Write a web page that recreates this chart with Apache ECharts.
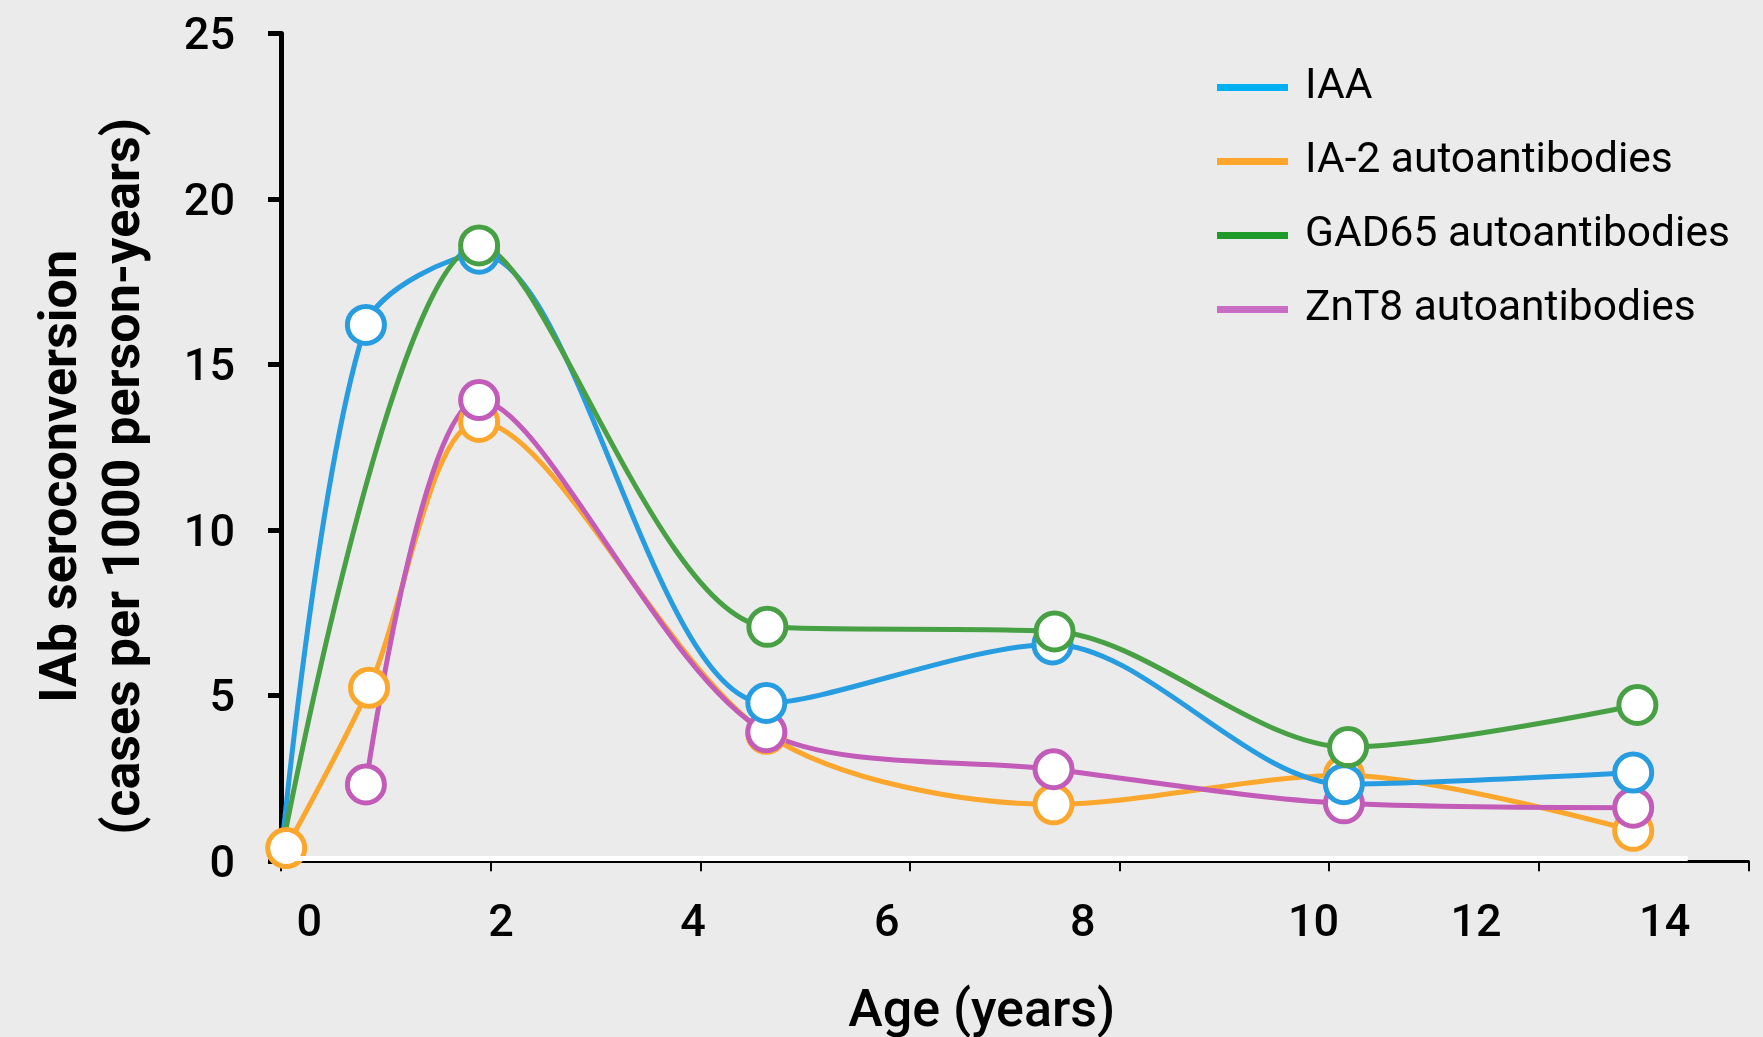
<!DOCTYPE html>
<html>
<head>
<meta charset="utf-8">
<script src="https://cdn.jsdelivr.net/npm/echarts@6/dist/echarts.min.js"></script>
<style>
  html, body { margin: 0; padding: 0; background: #ebebeb; }
  #chart { width: 1763px; height: 1037px; }
</style>
</head>
<body>
<div id="chart"></div>
<script>
// values (x in axis units, tick marks every 2)
const ageIAA = [0, 0.81, 1.89, 4.63, 7.36, 10.14, 12.9];
const rateIAA = [0.15, 16.2, 18.35, 4.78, 6.55, 2.33, 2.68];

const ageIA2 = [0.05, 0.84, 1.89, 4.63, 7.37, 10.14, 12.9];
const rateIA2 = [0.4, 5.24, 13.27, 3.85, 1.72, 2.6, 0.92];

const ageGAD = [0, 1.89, 4.64, 7.38, 10.18, 12.94];
const rateGAD = [0.2, 18.6, 7.08, 6.94, 3.45, 4.72];

const ageZnT8 = [0.81, 1.89, 4.63, 7.37, 10.14, 12.9];
const rateZnT8 = [2.32, 13.93, 3.9, 2.78, 1.75, 1.62];

const seriesNames = ['IAA', 'IA-2 autoantibodies', 'GAD65 autoantibodies', 'ZnT8 autoantibodies'];

// x tick marks and the (offset) tick labels as printed in the figure
const xTicks = [0, 2, 4, 6, 8, 10, 12, 14];
const xLabelText = ['0', '2', '4', '6', '8', '10', '12', '14'];
const xLabelPos = [0.27, 2.1, 3.93, 5.78, 7.65, 9.85, 11.4, 13.2];

// white strip just above the x axis
const stripY = 0.09;
const stripEnd = 13.42;

const lineColors = {
  'IAA': '#279ce0',
  'IA-2 autoantibodies': '#fba62c',
  'GAD65 autoantibodies': '#48a045',
  'ZnT8 autoantibodies': '#c25cb8'
};
const legendColors = {
  'IAA': '#00b0f0',
  'IA-2 autoantibodies': '#ffa52b',
  'GAD65 autoantibodies': '#1e9a2a',
  'ZnT8 autoantibodies': '#c96cc4'
};
const noStartMarker = ['IAA', 'GAD65 autoantibodies'];

const chart = echarts.init(document.getElementById('chart'));
const font = 'Roboto, "Noto Sans", sans-serif';

function makeSeries(name, xs, ys) {
  const c = lineColors[name];
  return {
    type: 'line',
    name: name,
    smooth: 0.3,
    symbol: 'circle',
    symbolSize: 37,
    data: xs.map((x, i) => {
      const item = { value: [x, ys[i]] };
      if (i === 0 && noStartMarker.includes(name)) item.symbol = 'none';
      return item;
    }),
    lineStyle: { color: c, width: 5 },
    itemStyle: { color: '#fff', borderColor: c, borderWidth: 5 },
    emphasis: { disabled: true },
    clip: false
  };
}

// draw order: orange at the bottom, green on top
const series = [
  makeSeries('IA-2 autoantibodies', ageIA2, rateIA2),
  makeSeries('ZnT8 autoantibodies', ageZnT8, rateZnT8),
  makeSeries('IAA', ageIAA, rateIAA),
  makeSeries('GAD65 autoantibodies', ageGAD, rateGAD)
];
series[0].markLine = {
  silent: true,
  symbol: 'none',
  label: { show: false },
  lineStyle: { color: '#ffffff', width: 5, type: 'solid' },
  data: [[{ coord: [0, stripY] }, { coord: [stripEnd, stripY] }]]
};

chart.setOption({
  backgroundColor: '#ebebeb',
  animation: false,
  grid: { left: 281, right: 14.5, top: 33.5, bottom: 175.7, outerBoundsMode: 'none', containLabel: false },
  legend: {
    orient: 'vertical',
    left: 1212,
    top: 61,
    icon: 'rect',
    itemWidth: 71,
    itemHeight: 7,
    itemGap: 31,
    textStyle: { fontFamily: font, fontSize: 42.5, lineHeight: 42, color: '#000', padding: [0, 0, 0, 12] },
    data: seriesNames.map(n => ({ name: n, itemStyle: { color: legendColors[n], borderWidth: 0 } }))
  },
  xAxis: {
    type: 'value',
    min: 0,
    max: 14,
    interval: 2,
    name: 'Age (years)',
    nameLocation: 'middle',
    nameGap: 126,
    nameTextStyle: { fontFamily: font, fontSize: 52, fontWeight: 500, color: '#000', padding: [0, 66, 0, 0] },
    axisLine: { show: true, lineStyle: { color: '#000', width: 3 } },
    axisTick: { show: true, customValues: xTicks, length: 10, lineStyle: { color: '#000', width: 2 } },
    axisLabel: {
      customValues: xLabelPos,
      formatter: v => xLabelText[xLabelPos.indexOf(v)],
      margin: 41,
      fontFamily: font, fontSize: 45, fontWeight: 500, color: '#000'
    },
    splitLine: { show: false }
  },
  yAxis: {
    type: 'value',
    min: 0,
    max: 25,
    interval: 5,
    name: 'IAb seroconversion\n(cases per 1000 person-years)',
    nameLocation: 'middle',
    nameGap: 124,
    nameRotate: 90,
    nameTextStyle: { fontFamily: font, fontSize: 52, fontWeight: 'bold', lineHeight: 63, color: '#000', padding: [0, 58, 0, 0] },
    axisLine: { show: true, lineStyle: { color: '#000', width: 5 } },
    axisTick: { show: true, length: 13, lineStyle: { color: '#000', width: 5 } },
    axisLabel: {
      margin: 46,
      formatter: '{v|{value}}',
      rich: { v: { padding: [9, 0, 0, 0], fontFamily: font, fontSize: 45, fontWeight: 500, color: '#000' } },
      fontFamily: font, fontSize: 45, fontWeight: 500, color: '#000'
    },
    splitLine: { show: false }
  },
  series: series
});
</script>
</body>
</html>
